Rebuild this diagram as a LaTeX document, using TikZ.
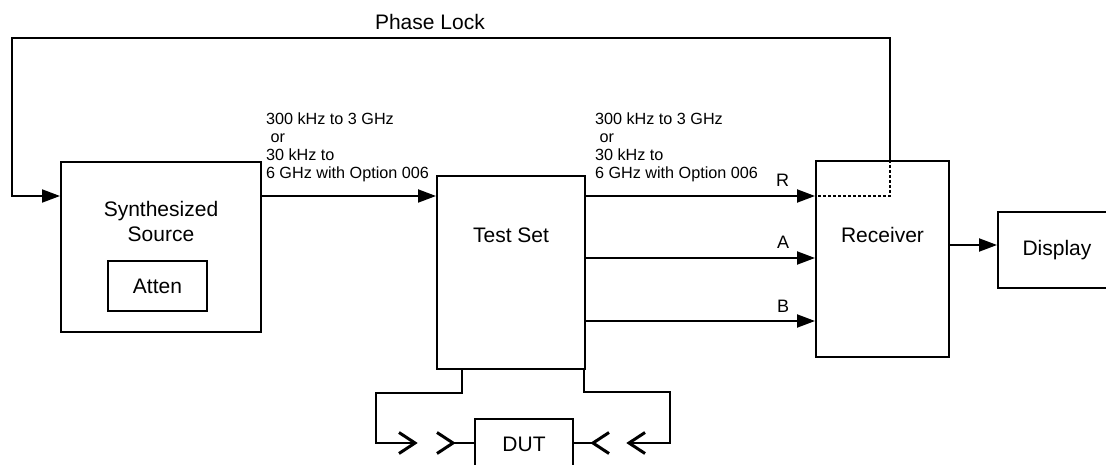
\documentclass[tikz,border=0pt]{standalone}
\usepackage{fontspec}
\setmainfont{Liberation Sans}
\usetikzlibrary{arrows.meta, calc}

\begin{document}
\begin{tikzpicture}[
    x=1pt, y=-1pt,
    box/.style={rectangle, draw=black, line width=2pt, inner sep=0pt, align=center, font=\fontsize{21}{25}\selectfont},
    title/.style={inner sep=0pt, font=\fontsize{21}{25}\selectfont},
    freq/.style={inner sep=0pt, align=left, font=\fontsize{16.2}{18}\selectfont},
    lbl/.style={inner sep=0pt, font=\fontsize{18}{20}\selectfont},
    sig/.style={line width=2pt, -{Triangle[length=18pt, width=13pt]}},
    wire/.style={line width=2pt},
    lockline/.style={line width=1.8pt, dash pattern=on 3pt off 2pt},
    chev/.style={line width=3pt}
]
\useasboundingbox (0,0) rectangle (1106,465);
\clip (0,0) rectangle (1106,465);

% blocks
\node[box, minimum width=200pt, text height=80pt, text depth=90pt] (src) at (161,247) {Synthesized\\Source};
\node[box, minimum width=99pt, minimum height=50pt] (atten) at (157.5,286) {Atten};
\node[box, minimum width=148pt, text height=67pt, text depth=126pt] (tset) at (511,272.5) {Test Set};
\node[box, minimum width=133pt, text height=82pt, text depth=114pt] (rcv) at (882.5,259) {Receiver};
\node[box, minimum width=118pt, minimum height=76pt] (disp) at (1057,250) {Display};
\node[box, minimum width=98pt, text height=32pt, text depth=39pt] (dut) at (524,454.5) {DUT};

% helper points
\coordinate (plk) at (890,196);
\coordinate (pltop) at (890,38);
\coordinate (plleft) at (12,38);
\coordinate (rowA) at (0,258);
\coordinate (rowB) at (0,321);
\coordinate (rowD) at (0,245);

% phase lock loop
\draw[sig] (plk |- rcv.north) -- (pltop) -- node[title, pos=0.524, anchor=base, yshift=8pt] {Phase Lock} (plleft) |- (src.west |- plk);
\draw[lockline] (plk |- rcv.north) -- (plk) -- (rcv.west |- plk);

% signal paths
\draw[sig] (src.east |- plk) -- node[freq, at start, anchor=south west, xshift=3pt, yshift=13pt] {300 kHz to 3 GHz\\\ or\\30 kHz to\\6 GHz with Option 006} (tset.west |- plk);
\draw[sig] (tset.east |- plk) -- node[freq, at start, anchor=south west, xshift=8pt, yshift=13pt] {300 kHz to 3 GHz\\\ or\\30 kHz to\\6 GHz with Option 006}
    node[lbl, at end, anchor=south east, xshift=-25pt, yshift=8pt] {R} (rcv.west |- plk);
\draw[sig] (tset.east |- rowA) -- node[lbl, at end, anchor=south east, xshift=-25pt, yshift=8pt] {A} (rcv.west |- rowA);
\draw[sig] (tset.east |- rowB) -- node[lbl, at end, anchor=south east, xshift=-25pt, yshift=8pt] {B} (rcv.west |- rowB);
\draw[sig] (rcv.east |- rowD) -- (disp.west |- rowD);

% DUT leads
\coordinate (lk1) at (462,393);
\coordinate (lk2) at (376,443);
\coordinate (lcon) at (415,443);
\coordinate (lcon2) at (453,443);
\coordinate (rk1) at (584,392);
\coordinate (rk2) at (670,443);
\coordinate (rcon) at (629,443);
\coordinate (rcon2) at (593,443);
\draw[wire] (tset.south -| lk1) -- (lk1) -| (lk2) -- (lcon);
\draw[wire] (lcon2) -- (dut.west |- lcon2);
\draw[wire] (tset.south -| rk1) -- (rk1) -| (rk2) -- (rcon);
\draw[wire] (rcon2) -- (dut.east |- rcon2);
\foreach \c/\s in {lcon/1, lcon2/1, rcon/-1, rcon2/-1}
    \draw[chev] ($(\c)+(-16*\s,-10.5)$) -- (\c) -- ($(\c)+(-16*\s,10.5)$);
\end{tikzpicture}
\end{document}
